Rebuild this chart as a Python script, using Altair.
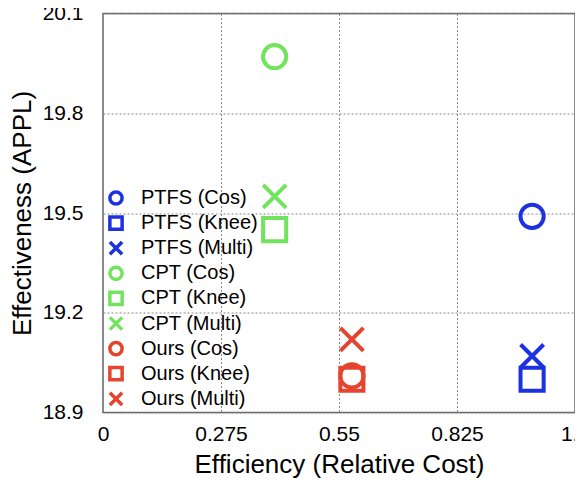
import altair as alt
import pandas as pd

methods = ["PTFS", "PTFS", "PTFS", "CPT", "CPT", "CPT", "Ours", "Ours", "Ours"]
variants = ["Cos", "Knee", "Multi", "Cos", "Knee", "Multi", "Cos", "Knee", "Multi"]
efficiency = [1.0, 1.0, 1.0, 0.40, 0.40, 0.40, 0.58, 0.58, 0.58]
effectiveness = [19.49, 19.00, 19.07, 19.97, 19.45, 19.55, 19.01, 19.00, 19.12]

labels = [f"{m} ({v})" for m, v in zip(methods, variants)]
data = pd.DataFrame({
    "label": labels,
    "variant": variants,
    "efficiency": efficiency,
    "effectiveness": effectiveness,
})

blue, green, red = "#1c32e0", "#72e35c", "#e5452f"
colors = [blue] * 3 + [green] * 3 + [red] * 3
cross = "M-1,-1L1,1M-1,1L1,-1"
shapes = ["circle", "square", cross] * 3

font = "Liberation Sans"

points = alt.Chart(data).mark_point(filled=False, opacity=1).encode(
    alt.X("efficiency:Q").scale(domain=[0, 1.1], nice=False, zero=False).axis(
        values=[0, 0.275, 0.55, 0.825, 1.1], format=".3~f", labelPadding=11,
        titleBaseline="alphabetic", titleY=59.5, labelFlush=False, labelOverlap=False
    ).title("Efficiency (Relative Cost)"),
    alt.Y("effectiveness:Q").scale(domain=[18.9, 20.1], nice=False, zero=False).axis(
        values=[18.9, 19.2, 19.5, 19.8, 20.1], format=".1f", labelPadding=20,
        titleBaseline="alphabetic", titleX=-73, titleY=199.5, labelFlush=False, labelOverlap=False
    ).title("Effectiveness (APPL)"),
    alt.Color("label:N", title=None).scale(domain=labels, range=colors).legend(
        orient="none", legendX=3, legendY=174.5, labelFontSize=20, labelFont=font,
        labelColor="black", symbolSize=150, symbolStrokeWidth=3.5, rowPadding=-2.9,
        labelOffset=15, padding=0, labelLimit=300
    ),
    alt.Shape("label:N", title=None).scale(domain=labels, range=shapes),
    alt.Size("variant:N", legend=None).scale(domain=["Cos", "Knee", "Multi"], range=[540, 529, 340]),
    alt.StrokeWidth("variant:N", legend=None).scale(domain=["Cos", "Knee", "Multi"], range=[4, 4, 5]),
)

chart = points.properties(
    width=472,
    height=399,
    autosize=alt.AutoSizeParams(type="none"),
    padding={"left": 95, "top": 5.5, "right": 0, "bottom": 65.5},
).configure_view(
    stroke="#666666", strokeWidth=1.5
).configure_axis(
    ticks=False, domain=False, grid=True, gridColor="#888888", gridDash=[2, 2], gridWidth=1,
    labelFont=font, labelFontSize=21, labelColor="black",
    titleFont=font, titleFontSize=26, titleFontWeight="normal", titleColor="black"
)

chart.save("out.html", embed_options={"renderer": "svg", "actions": False})
